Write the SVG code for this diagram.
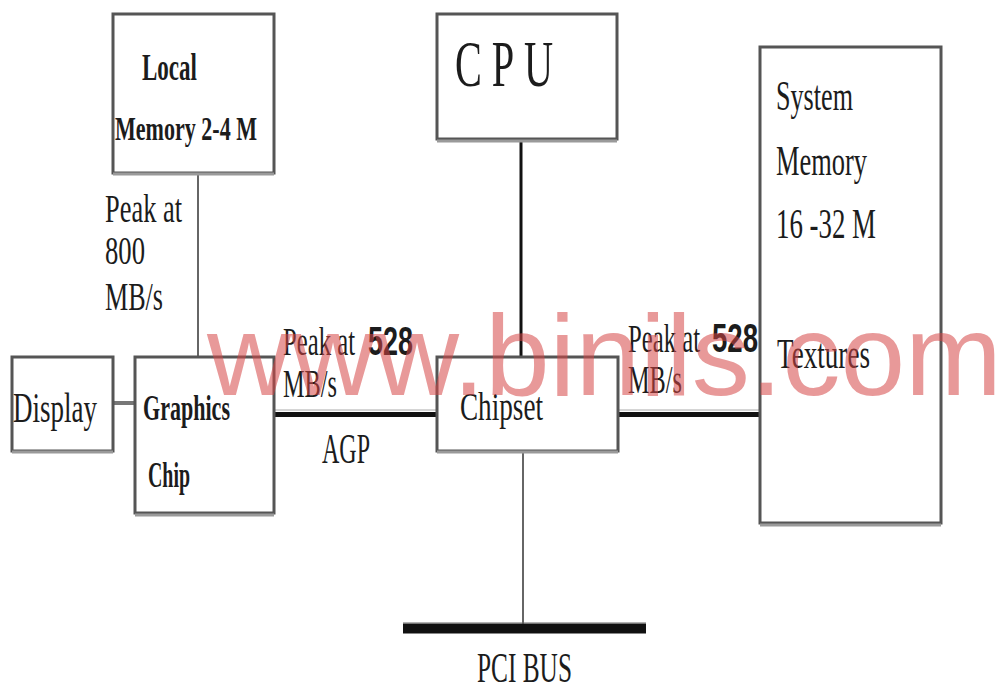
<svg xmlns="http://www.w3.org/2000/svg" width="999" height="688" viewBox="0 0 999 688">
<style>
.box{fill:#fff;stroke:#555;stroke-width:3}
.sh{stroke:#9a9a9a;stroke-width:3}
.t{font-family:"Liberation Serif","Times New Roman",serif;fill:#1c1c1c}
.b{font-weight:bold}
.n{font-family:"Liberation Sans",Arial,sans-serif;fill:#1c1c1c}
.thin{stroke:#666;stroke-width:2;fill:none}
.thick{stroke:#111;stroke-width:5;fill:none}
.wm{font-family:"Liberation Sans",Arial,sans-serif;fill:#d64545;fill-opacity:0.55}
</style>
<rect width="999" height="688" fill="#fff"/>
<g id="connectors">
<line class="thin" x1="198" y1="174" x2="198" y2="357"/>
<line x1="521" y1="140" x2="521" y2="357" stroke="#111" stroke-width="3"/>
<line x1="113" y1="403" x2="135" y2="403" stroke="#777" stroke-width="4"/>
<line class="thick" x1="274" y1="414.5" x2="437" y2="414.5"/>
<line x1="274" y1="410" x2="437" y2="410" stroke="#aaa" stroke-width="1"/>
<line class="thick" x1="618" y1="414.5" x2="760" y2="414.5"/>
<line x1="618" y1="410" x2="760" y2="410" stroke="#aaa" stroke-width="1"/>
<line class="thin" x1="523" y1="452" x2="523" y2="624"/>
</g>
<g id="local-memory">
<rect class="box" x="113" y="14" width="161" height="159"/>
<line class="sh" x1="113" y1="174" x2="274" y2="174"/>
<text class="t b" x="142" y="80" font-size="37" textLength="55" lengthAdjust="spacingAndGlyphs">Local</text>
<text class="t b" x="115" y="140" font-size="34" textLength="142" lengthAdjust="spacingAndGlyphs">Memory 2-4 M</text>
</g>
<g id="cpu">
<rect class="box" x="437" y="14" width="180" height="125"/>
<line class="sh" x1="437" y1="141" x2="617" y2="141"/>
<text class="t" transform="translate(455,86) scale(0.62,1)" font-size="65" letter-spacing="16">CPU</text>
</g>
<g id="system-memory">
<rect class="box" x="760" y="47" width="181" height="476"/>
<line class="sh" x1="760" y1="525" x2="941" y2="525"/>
<text class="t" x="776" y="110" font-size="42" textLength="77" lengthAdjust="spacingAndGlyphs">System</text>
<text class="t" x="776" y="175" font-size="42" textLength="91" lengthAdjust="spacingAndGlyphs">Memory</text>
<text class="t" x="776" y="238" font-size="42" textLength="100" lengthAdjust="spacingAndGlyphs">16 -32 M</text>
<text class="t" x="777" y="368" font-size="43" textLength="93" lengthAdjust="spacingAndGlyphs">Textures</text>
</g>
<g id="display">
<rect class="box" x="12" y="357" width="101" height="94"/>
<line class="sh" x1="12" y1="452" x2="113" y2="452"/>
<text class="t" x="13" y="422" font-size="42" textLength="84" lengthAdjust="spacingAndGlyphs">Display</text>
</g>
<g id="graphics-chip">
<rect class="box" x="135" y="357" width="139" height="156"/>
<line class="sh" x1="135" y1="515" x2="274" y2="515"/>
<text class="t b" x="143" y="420" font-size="35" textLength="87" lengthAdjust="spacingAndGlyphs">Graphics</text>
<text class="t b" x="148" y="487" font-size="35" textLength="42" lengthAdjust="spacingAndGlyphs">Chip</text>
</g>
<g id="chipset">
<rect class="box" x="437" y="357" width="181" height="94"/>
<line class="sh" x1="437" y1="452" x2="618" y2="452"/>
<text class="t" x="460" y="420" font-size="40" textLength="83" lengthAdjust="spacingAndGlyphs">Chipset</text>
</g>
<g id="pci-bus">
<line x1="403" y1="628.5" x2="646" y2="628.5" stroke="#111" stroke-width="10"/>
<line x1="403" y1="623" x2="646" y2="623" stroke="#666" stroke-width="1"/>
<text class="t" x="477" y="682" font-size="43" textLength="95" lengthAdjust="spacingAndGlyphs">PCI BUS</text>
</g>
<g id="labels">
<text class="t" x="105" y="222" font-size="40" textLength="77" lengthAdjust="spacingAndGlyphs">Peak at</text>
<text class="t" x="105" y="264" font-size="40" textLength="40" lengthAdjust="spacingAndGlyphs">800</text>
<text class="t" x="105" y="310" font-size="40" textLength="58" lengthAdjust="spacingAndGlyphs">MB/s</text>
<text class="t" x="283" y="355" font-size="40" textLength="72" lengthAdjust="spacingAndGlyphs">Peak at</text>
<text class="n" x="368" y="355" font-size="40" font-weight="bold" textLength="45" lengthAdjust="spacingAndGlyphs">528</text>
<text class="t" x="283" y="397" font-size="40" textLength="54" lengthAdjust="spacingAndGlyphs">MB/s</text>
<text class="t" x="322" y="463" font-size="42" textLength="48" lengthAdjust="spacingAndGlyphs">AGP</text>
<text class="t" x="628" y="352" font-size="40" textLength="72" lengthAdjust="spacingAndGlyphs">Peak at</text>
<text class="n" x="712" y="352" font-size="40" font-weight="bold" textLength="46" lengthAdjust="spacingAndGlyphs">528</text>
<text class="t" x="628" y="393" font-size="40" textLength="54" lengthAdjust="spacingAndGlyphs">MB/s</text>
</g>
<text class="wm" x="207" y="395" font-size="115" textLength="795" lengthAdjust="spacingAndGlyphs">www.binils.com</text>
</svg>
